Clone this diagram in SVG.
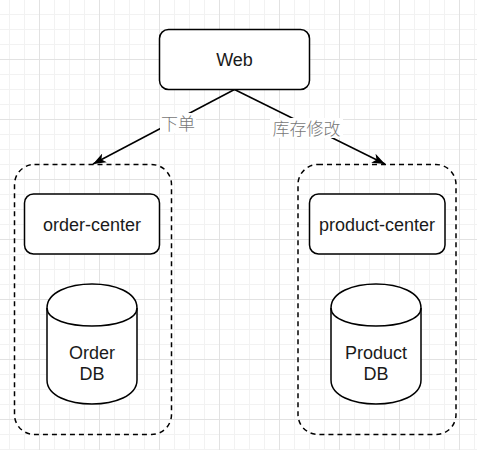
<svg xmlns="http://www.w3.org/2000/svg" width="477" height="450" viewBox="0 0 477 450">
<defs>
<pattern id="gMinor" x="9" y="14" width="15" height="15" patternUnits="userSpaceOnUse">
<path d="M0 0.5H15M0.5 0V15" stroke="#f2f2f2" stroke-width="1" fill="none"/>
</pattern>
<pattern id="gMajor" x="39" y="59" width="60" height="60" patternUnits="userSpaceOnUse">
<path d="M0 0.5H60M0.5 0V60" stroke="#e2e2e2" stroke-width="1" fill="none"/>
</pattern>
<marker id="arr" markerUnits="userSpaceOnUse" markerWidth="13" markerHeight="10" viewBox="0 0 13 10" refX="13" refY="5" orient="auto">
<path d="M0,0 L13,5 L0,10 L3.5,5 Z" fill="#000"/>
</marker>
<style>
.box{fill:#fff;stroke:#000;stroke-width:1.5}
.cont{fill:none;stroke:#000;stroke-width:1.5;stroke-dasharray:5 4}
.t{font-family:"Liberation Sans",Arial,sans-serif;font-size:18px;fill:#1a1a1a;text-anchor:middle}
.lbl{font-family:"Noto Sans CJK SC",sans-serif;font-size:17px;font-weight:300;fill:#777;text-anchor:middle}
.edge{stroke:#000;stroke-width:1.5;fill:none}
</style>
</defs>
<rect width="477" height="450" fill="#fff"/>
<rect width="477" height="450" fill="url(#gMinor)"/>
<rect width="477" height="450" fill="url(#gMajor)"/>

<g id="edges">
<path class="edge" d="M234.5,89.5 L93,164" marker-end="url(#arr)"/>
<path class="edge" d="M234.5,89.5 L385,164" marker-end="url(#arr)"/>
<rect x="160" y="113" width="36" height="20" fill="#fff"/>
<text class="lbl" x="178" y="130">下单</text>
<rect x="270" y="118" width="73" height="20" fill="#fff"/>
<text class="lbl" x="306.5" y="135">库存修改</text>
</g>

<g id="web">
<rect class="box" x="159.5" y="29.5" width="150" height="60" rx="9"/>
<text class="t" x="234.5" y="66">Web</text>
</g>

<g id="order-group">
<rect class="cont" x="14.5" y="164.5" width="157" height="270" rx="20"/>
</g>
<g id="order-center">
<rect class="box" x="24.5" y="194" width="135" height="60" rx="9"/>
<text class="t" x="92" y="231">order-center</text>
</g>
<g id="order-db">
<path class="box" d="M47,308 C47,276 137,276 137,308 L137,380 C137,412 47,412 47,380 Z"/>
<path class="edge" d="M47,308 C47,332 137,332 137,308"/>
<text class="t" x="92" y="359">Order</text>
<text class="t" x="92" y="380">DB</text>
</g>

<g id="product-group">
<rect class="cont" x="298" y="164.5" width="158" height="270" rx="20"/>
</g>
<g id="product-center">
<rect class="box" x="309.5" y="194" width="135.5" height="60" rx="9"/>
<text class="t" x="377" y="231">product-center</text>
</g>
<g id="product-db">
<path class="box" d="M331,308 C331,276 421,276 421,308 L421,380 C421,412 331,412 331,380 Z"/>
<path class="edge" d="M331,308 C331,332 421,332 421,308"/>
<text class="t" x="376" y="359">Product</text>
<text class="t" x="376" y="380">DB</text>
</g>
</svg>
